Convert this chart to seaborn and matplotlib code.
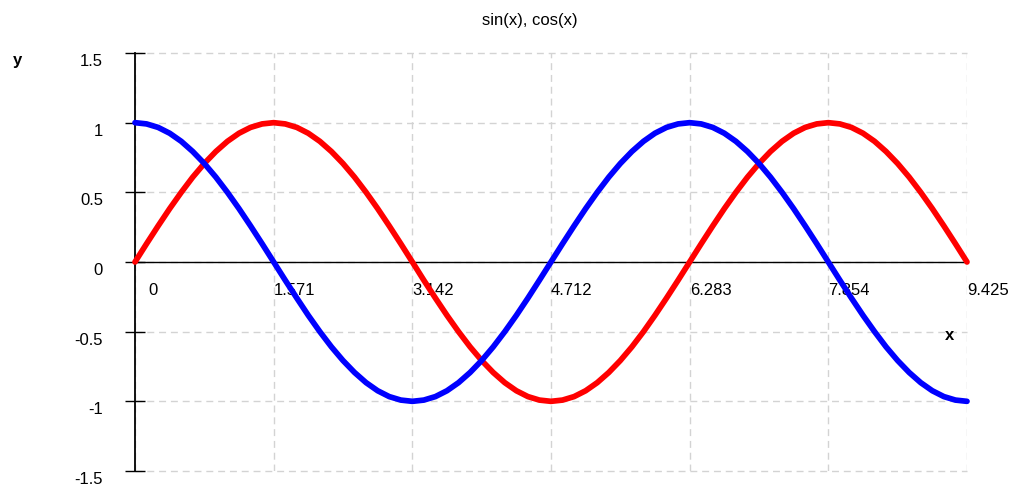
import matplotlib
matplotlib.use("Agg")
import matplotlib.pyplot as plt
import matplotlib.transforms as mtransforms
import seaborn as sns
import pandas as pd

# values, every 7.5 degrees from 0 to 3*pi
x_vals = [0.000, 0.131, 0.262, 0.393, 0.524, 0.654, 0.785, 0.916, 1.047, 1.178,
          1.309, 1.440, 1.571, 1.702, 1.833, 1.963, 2.094, 2.225, 2.356, 2.487,
          2.618, 2.749, 2.880, 3.011, 3.142, 3.272, 3.403, 3.534, 3.665, 3.796,
          3.927, 4.058, 4.189, 4.320, 4.451, 4.581, 4.712, 4.843, 4.974, 5.105,
          5.236, 5.367, 5.498, 5.629, 5.760, 5.890, 6.021, 6.152, 6.283, 6.414,
          6.545, 6.676, 6.807, 6.938, 7.069, 7.199, 7.330, 7.461, 7.592, 7.723,
          7.854, 7.985, 8.116, 8.247, 8.378, 8.508, 8.639, 8.770, 8.901, 9.032,
          9.163, 9.294, 9.425]
sin_vals = [0.000, 0.131, 0.259, 0.383, 0.500, 0.609, 0.707, 0.793, 0.866, 0.924,
            0.966, 0.991, 1.000, 0.991, 0.966, 0.924, 0.866, 0.793, 0.707, 0.609,
            0.500, 0.383, 0.259, 0.131, 0.000, -0.131, -0.259, -0.383, -0.500, -0.609,
            -0.707, -0.793, -0.866, -0.924, -0.966, -0.991, -1.000, -0.991, -0.966, -0.924,
            -0.866, -0.793, -0.707, -0.609, -0.500, -0.383, -0.259, -0.131, 0.000, 0.131,
            0.259, 0.383, 0.500, 0.609, 0.707, 0.793, 0.866, 0.924, 0.966, 0.991,
            1.000, 0.991, 0.966, 0.924, 0.866, 0.793, 0.707, 0.609, 0.500, 0.383,
            0.259, 0.131, 0.000]
cos_vals = [1.000, 0.991, 0.966, 0.924, 0.866, 0.793, 0.707, 0.609, 0.500, 0.383,
            0.259, 0.131, 0.000, -0.131, -0.259, -0.383, -0.500, -0.609, -0.707, -0.793,
            -0.866, -0.924, -0.966, -0.991, -1.000, -0.991, -0.966, -0.924, -0.866, -0.793,
            -0.707, -0.609, -0.500, -0.383, -0.259, -0.131, 0.000, 0.131, 0.259, 0.383,
            0.500, 0.609, 0.707, 0.793, 0.866, 0.924, 0.966, 0.991, 1.000, 0.991,
            0.966, 0.924, 0.866, 0.793, 0.707, 0.609, 0.500, 0.383, 0.259, 0.131,
            0.000, -0.131, -0.259, -0.383, -0.500, -0.609, -0.707, -0.793, -0.866, -0.924,
            -0.966, -0.991, -1.000]

x_ticks = [0, 1.571, 3.142, 4.712, 6.283, 7.854, 9.425]
x_labels = ["0", "1.571", "3.142", "4.712", "6.283", "7.854", "9.425"]
y_ticks = [-1.5, -1, -0.5, 0, 0.5, 1, 1.5]
y_labels = ["-1.5", "-1", "-0.5", "0", "0.5", "1", "1.5"]

df = pd.DataFrame({"x": x_vals * 2,
                   "y": sin_vals + cos_vals,
                   "series": ["sin"] * len(x_vals) + ["cos"] * len(x_vals)})

sns.set_style("white")
plt.rcParams["font.family"] = ["Liberation Sans", "DejaVu Sans"]

W, H = 1019, 486
fig = plt.figure(figsize=(W / 100, H / 100), dpi=100)
ax = fig.add_axes([135 / W, 1 - 471 / H, (967 - 135) / W, (471 - 53) / H])

sns.lineplot(data=df, x="x", y="y", hue="series", palette={"sin": "#ff0000", "cos": "#0000ff"},
             linewidth=4.1, legend=False, ax=ax, sort=False)
for ln in ax.get_lines():
    ln.set_solid_capstyle("round")
    ln.set_solid_joinstyle("round")
    ln.set_clip_on(False)
    ln.set_zorder(5)

ax.set_xlim(0, 9.425)
ax.set_ylim(-1.5, 1.5)
ax.set_xticks(x_ticks)
ax.set_xticklabels(x_labels)
ax.set_yticks(y_ticks)
ax.set_yticklabels(y_labels)

ax.grid(True, color="#d3d3d3", linestyle=(0, (5, 3.5)), linewidth=1.0)
ax.set_axisbelow(True)
for gl in ax.get_xgridlines() + ax.get_ygridlines():
    gl.set_clip_on(False)

for s in ["top", "right"]:
    ax.spines[s].set_visible(False)
ax.spines["bottom"].set_position(("data", 0))
ax.spines["bottom"].set_color("black")
ax.spines["bottom"].set_linewidth(1.0)
ax.spines["left"].set_color("black")
ax.spines["left"].set_linewidth(1.3)

ax.tick_params(axis="y", left=True, direction="inout", length=14, width=1, color="black",
               pad=16, labelsize=12, labelcolor="black")
ax.tick_params(axis="x", bottom=False, length=0, pad=15, labelsize=12, labelcolor="black")

for lab in ax.get_xticklabels():
    lab.set_horizontalalignment("left")
ax.get_xticklabels()[0].set_transform(
    ax.get_xticklabels()[0].get_transform() + mtransforms.ScaledTranslation(0.13, 0, fig.dpi_scale_trans))
for lab in ax.get_yticklabels():
    lab.set_transform(lab.get_transform() + mtransforms.ScaledTranslation(0, -0.07, fig.dpi_scale_trans))

ax.set_xlabel("")
ax.set_ylabel("")
fig.text(17 / W, 1 - 60 / H, "y", fontsize=12, fontweight="bold", ha="center", va="center", color="black")
fig.text(950 / W, 1 - 336 / H, "x", fontsize=12, fontweight="bold", ha="center", va="center", color="black")
fig.text(530 / W, 1 - 20 / H, "sin(x), cos(x)", fontsize=12, ha="center", va="center", color="black")

fig.savefig("out.png", dpi=100)
